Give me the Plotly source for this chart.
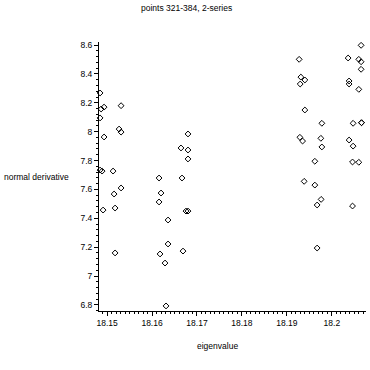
import plotly.graph_objects as go

# Series 1 (points near eigenvalue 18.15 and 18.165)
s1_x = [18.14844, 18.14867, 18.14933, 18.15311, 18.14844, 18.15267, 18.15311, 18.14933,
        18.14844, 18.14889, 18.15133, 18.15311, 18.15156, 18.14911, 18.15178, 18.15178,
        18.16800, 18.16644, 18.16800, 18.16800, 18.16156, 18.16667, 18.16200, 18.16156,
        18.16756, 18.16800, 18.16356, 18.16356, 18.16178, 18.16689, 18.16289, 18.16311]
s1_y = [8.268, 8.157, 8.170, 8.180, 8.095, 8.018, 7.997, 7.963,
        7.734, 7.727, 7.727, 7.610, 7.568, 7.457, 7.471, 7.160,
        7.984, 7.887, 7.873, 7.811, 7.679, 7.679, 7.575, 7.513,
        7.450, 7.450, 7.388, 7.222, 7.153, 7.173, 7.090, 6.793]

# Series 2 (points near eigenvalue 18.195 and 18.205)
s2_x = [18.19273, 18.19311, 18.19400, 18.19296, 18.19400, 18.19778, 18.19289, 18.19349,
        18.19756, 18.19778, 18.19622, 18.19384, 18.19622, 18.19762, 18.19673, 18.19673,
        18.20651, 18.20362, 18.20600, 18.20651, 18.20651, 18.20384, 18.20384, 18.20600,
        18.20473, 18.20660, 18.20660, 18.20384, 18.20473, 18.20460, 18.20600, 18.20460]
s2_y = [8.501, 8.378, 8.358, 8.330, 8.150, 8.058, 7.961, 7.935,
        7.954, 7.894, 7.795, 7.656, 7.630, 7.531, 7.492, 7.194,
        8.598, 8.510, 8.501, 8.484, 8.432, 8.351, 8.330, 8.293,
        8.058, 8.062, 8.062, 7.942, 7.900, 7.790, 7.788, 7.485]

title_text = "points 321-384, 2-series"
x_label = "eigenvalue"
y_label = "normal derivative"
x_ticks = [18.15, 18.16, 18.17, 18.18, 18.19, 18.2]
x_tick_text = ["18.15", "18.16", "18.17", "18.18", "18.19", "18.2"]
y_ticks = [6.8, 7.0, 7.2, 7.4, 7.6, 7.8, 8.0, 8.2, 8.4, 8.6]
y_tick_text = ["6.8", "7", "7.2", "7.4", "7.6", "7.8", "8", "8.2", "8.4", "8.6"]

marker = dict(symbol="diamond-open", size=4.5, color="black", line=dict(width=1, color="black"))

fig = go.Figure()
fig.add_trace(go.Scatter(x=s1_x, y=s1_y, mode="markers", marker=marker, showlegend=False,
                         cliponaxis=False))
fig.add_trace(go.Scatter(x=s2_x, y=s2_y, mode="markers", marker=marker, showlegend=False,
                         cliponaxis=False))

FONT = "Liberation Sans"
L, R, T, B = 99, 366, 42, 311
W = R - L
H = B - T

def px(x):
    return (x - L) / W

def py(y):
    return (B - y) / H

axis_common = dict(
    showgrid=False, zeroline=False, showline=True, linecolor="black", linewidth=1,
    ticks="outside", ticklen=4, tickwidth=1, tickcolor="black",
    tickfont=dict(family=FONT, size=8.5, color="black"),
)

fig.update_layout(
    width=370, height=370,
    margin=dict(l=L, r=370 - R, t=T, b=370 - B, pad=0),
    paper_bgcolor="white", plot_bgcolor="white",
    xaxis=dict(range=[18.1482, 18.2076], tickmode="array", tickvals=x_ticks, ticktext=x_tick_text,
               minor=dict(dtick=0.001, tick0=18.15, ticklen=2, ticks="outside", tickcolor="black"),
               **axis_common),
    yaxis=dict(range=[6.758, 8.621], tickmode="array", tickvals=y_ticks, ticktext=y_tick_text,
               minor=dict(dtick=0.04, tick0=6.8, ticklen=2, ticks="outside", tickcolor="black"),
               **axis_common),
    annotations=[
        dict(text=title_text, x=px(186), y=py(7.5), xref="paper", yref="paper",
             xanchor="center", yanchor="middle", showarrow=False,
             font=dict(family=FONT, size=8.5, color="black")),
        dict(text=y_label, x=px(2), y=py(177), xref="paper", yref="paper",
             xanchor="left", yanchor="middle", showarrow=False,
             font=dict(family=FONT, size=8.5, color="black")),
        dict(text=x_label, x=px(217), y=py(346), xref="paper", yref="paper",
             xanchor="center", yanchor="middle", showarrow=False,
             font=dict(family=FONT, size=8.5, color="black")),
    ],
)

fig.write_html("out.html", post_script="document.body.style.margin='0';",
               config={"displayModeBar": False})
